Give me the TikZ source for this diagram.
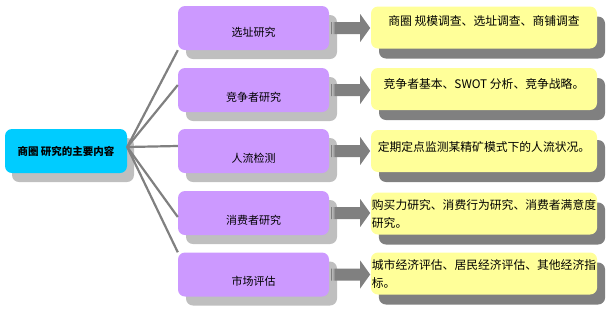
\documentclass[tikz,border=0pt]{standalone}
\usepackage{fontspec}
\setmainfont{Noto Sans CJK SC}
\usetikzlibrary{shadows}

\definecolor{rootblue}{HTML}{00CCFF}
\definecolor{subpurple}{HTML}{CC99FF}
\definecolor{noteyellow}{HTML}{FFFF99}
\definecolor{lightshadow}{HTML}{BFBFBF}
\definecolor{darkshadow}{HTML}{808080}
\definecolor{linegray}{HTML}{808080}

\begin{document}
\begin{tikzpicture}[x=1pt, y=-1pt,
  rootbox/.style={fill=rootblue, rounded corners=7pt, minimum width=122pt, minimum height=44pt, inner sep=0pt,
    font=\fontsize{10.5}{12}\selectfont\bfseries,
    drop shadow={fill=lightshadow, opacity=1, shadow xshift=7pt, shadow yshift=-9pt}},
  subbox/.style={fill=subpurple, rounded corners=7pt, minimum width=151pt, minimum height=44pt, inner sep=0pt,
    font=\fontsize{11}{13}\selectfont, text height=22pt, text depth=0pt,
    drop shadow={fill=lightshadow, opacity=1, shadow xshift=8pt, shadow yshift=-9pt}},
  notebox/.style={fill=noteyellow, rounded corners=7pt, minimum width=226pt, minimum height=42pt, inner sep=1pt,
    align=left, font=\fontsize{11.8}{18}\selectfont,
    drop shadow={fill=darkshadow, opacity=1, shadow xshift=8pt, shadow yshift=-10pt}},
  branch/.style={draw=linegray, line width=2.2pt},
  blockarrow/.style={fill=linegray}]
  \useasboundingbox (0,0) rectangle (606,309);
  % 0. 中心
  \node[rootbox] (root) at (66,151) {商圈 研究的主要内容};
  % 1. 选址研究
  \node[subbox, text height=16pt] (p1) at (253.5,28) {选址研究};
  \node[notebox, text depth=13pt] (n1) at (484,27.5) {商圈 规模调查、选址调查、商铺调查};
  \draw[branch] ([yshift=4pt]root.east) -- (p1.south west);
  \fill[blockarrow, shift={(p1.east)}] (2,-6) rectangle (3,6) (4.5,-6) rectangle (5.5,6)
    (6,-6) -- (31,-6) -- (31,-14) -- (41,0) -- (31,14) -- (31,6) -- (6,6) -- cycle;
  % 2. 竞争者研究
  \node[subbox] (p2) at (253.5,90) {竞争者研究};
  \node[notebox, text depth=10pt] (n2) at (484,89) {竞争者基本、SWOT 分析、竞争战略。};
  \draw[branch] ([yshift=4pt]root.east) -- ([yshift=5pt]p2.west);
  \fill[blockarrow, shift={(p2.east)}] (2,-6) rectangle (3,6) (4.5,-6) rectangle (5.5,6)
    (6,-6) -- (31,-6) -- (31,-14) -- (41,0) -- (31,14) -- (31,6) -- (6,6) -- cycle;
  % 3. 人流检测
  \node[subbox] (p3) at (253.5,151) {人流检测};
  \node[notebox, text depth=10pt] (n3) at (484,151) {定期定点监测某精矿模式下的人流状况。};
  \draw[branch] ([yshift=4pt]root.east) -- ([yshift=5pt]p3.west);
  \fill[blockarrow, shift={(p3.east)}] (2,-6) rectangle (3,6) (4.5,-6) rectangle (5.5,6)
    (6,-6) -- (31,-6) -- (31,-14) -- (41,0) -- (31,14) -- (31,6) -- (6,6) -- cycle;
  % 4. 消费者研究
  \node[subbox] (p4) at (253.5,213) {消费者研究};
  \node[notebox] (n4) at (484,213.5) {购买力研究、消费行为研究、消费者满意度\\研究。};
  \draw[branch] ([yshift=4pt]root.east) -- ([yshift=-4pt]p4.west);
  \fill[blockarrow, shift={(p4.east)}] (2,-6) rectangle (3,6) (4.5,-6) rectangle (5.5,6)
    (6,-6) -- (31,-6) -- (31,-14) -- (41,0) -- (31,14) -- (31,6) -- (6,6) -- cycle;
  % 5. 市场评估
  \node[subbox] (p5) at (253.5,274.5) {市场评估};
  \node[notebox] (n5) at (484,273.5) {城市经济评估、居民经济评估、其他经济指\\标。};
  \draw[branch] ([yshift=4pt]root.east) -- (p5.north west);
  \fill[blockarrow, shift={(p5.east)}] (2,-6) rectangle (3,6) (4.5,-6) rectangle (5.5,6)
    (6,-6) -- (31,-6) -- (31,-14) -- (41,0) -- (31,14) -- (31,6) -- (6,6) -- cycle;
\end{tikzpicture}
\end{document}
